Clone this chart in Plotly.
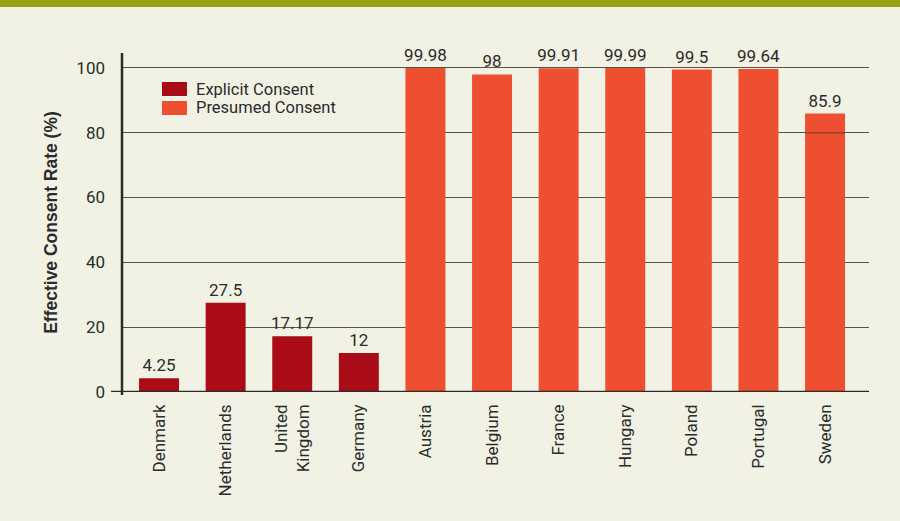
import plotly.graph_objects as go

countries = ["Denmark", "Netherlands", "United<br>Kingdom", "Germany",
             "Austria", "Belgium", "France", "Hungary", "Poland", "Portugal", "Sweden"]
consent_type = ["Explicit Consent"] * 4 + ["Presumed Consent"] * 7
rates = [4.25, 27.5, 17.17, 12, 99.98, 98, 99.91, 99.99, 99.5, 99.64, 85.9]
rate_labels = ["4.25", "27.5", "17.17", "12", "99.98", "98", "99.91", "99.99", "99.5", "99.64", "85.9"]
y_ticks = [0, 20, 40, 60, 80, 100]

colors = {"Explicit Consent": "#A90B17", "Presumed Consent": "#EF4F31"}
BG = "#F2F2E4"
TXT = "#2b2b2b"
FONT = "Roboto, DejaVu Sans, sans-serif"

fig = go.Figure()
for grp in ["Explicit Consent", "Presumed Consent"]:
    idx = [i for i, g in enumerate(consent_type) if g == grp]
    fig.add_trace(go.Bar(
        x=[countries[i] for i in idx],
        y=[rates[i] for i in idx],
        text=[rate_labels[i] for i in idx],
        textposition="outside",
        textfont=dict(family=FONT, size=17, color=TXT),
        constraintext="none",
        cliponaxis=False,
        marker=dict(color=colors[grp], line=dict(width=0)),
        width=0.6,
        name=grp,
        showlegend=False,
    ))

fig.update_layout(
    width=900, height=521,
    paper_bgcolor=BG, plot_bgcolor=BG,
    margin=dict(l=122, r=31, t=53, b=129),
    font=dict(family=FONT, size=17, color=TXT),
    bargap=0.4,
)
fig.update_xaxes(
    type="category", categoryorder="array", categoryarray=countries,
    range=[-0.556, 10.66], tickangle=-90, showgrid=False, showline=False,
    zeroline=False, ticks="", tickfont=dict(family=FONT, size=17, color=TXT),
    ticklabelstandoff=8,
)
fig.update_yaxes(
    range=[0, 104.6], tickvals=y_ticks, showgrid=True, gridcolor="#55554d",
    gridwidth=1.3, zeroline=False, showline=False, ticks="",
    tickfont=dict(family=FONT, size=17, color=TXT), ticklabelstandoff=16,
    title=dict(text="Effective Consent Rate (%)",
               font=dict(family="Liberation Sans, Arial, sans-serif", size=17.5, color=TXT, weight="bold"),
               standoff=14),
)

# axis lines
fig.add_shape(type="line", xref="paper", yref="y", x0=-0.0147, x1=1, y0=0, y1=0,
              line=dict(color=TXT, width=2.5), layer="above")
fig.add_shape(type="line", xref="paper", yref="paper", x0=0, x1=0, y0=-0.009, y1=1,
              line=dict(color=TXT, width=2.5), layer="above")

# faint gridline visible across the Sweden bar in the reference
fig.add_shape(type="line", xref="x", yref="y", x0=9.7, x1=10.3, y0=80, y1=80,
              line=dict(color="rgba(40,40,40,0.45)", width=1.3), layer="above")

# top band
fig.add_shape(type="rect", xref="paper", yref="paper", x0=-0.2, x1=1.1,
              y0=1 + 46 / 339, y1=1 + 60 / 339, fillcolor="#97A015", line=dict(width=0))

# legend
legend_items = ["Explicit Consent", "Presumed Consent"]
for k, name in enumerate(legend_items):
    top = 82 + 19 * k
    fig.add_shape(type="rect", xref="paper", yref="paper",
                  x0=(162 - 122) / 747, x1=(187 - 122) / 747,
                  y0=(392 - top - 14) / 339, y1=(392 - top) / 339,
                  fillcolor=colors[name], line=dict(width=0))
    fig.add_annotation(xref="paper", yref="paper", x=(195 - 122) / 747,
                       y=(392 - top - 7) / 339, text=name, showarrow=False,
                       xanchor="left", yanchor="middle", height=17, borderpad=0,
                       font=dict(family=FONT, size=16.5, color=TXT))

fig.write_html("out.html", config={"displayModeBar": False},
               post_script="document.body.style.margin='0';document.body.style.background='%s';" % BG)
